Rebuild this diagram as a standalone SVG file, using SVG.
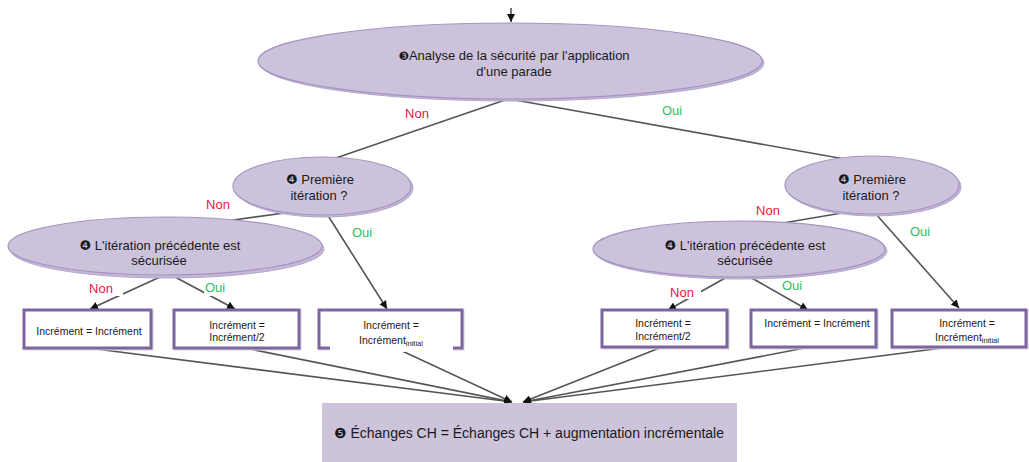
<svg xmlns="http://www.w3.org/2000/svg" width="1029" height="462" viewBox="0 0 1029 462">
<defs>
<style>
text{font-family:"Liberation Sans",Arial,"DejaVu Sans",sans-serif;fill:#1a1a1a}
.t13{font-size:13px}
.tb{font-size:10.5px}
.sub{font-size:7.5px}
.non{font-size:13px;fill:#e8183f}
.oui{font-size:13px;fill:#2fbf62}
.el{fill:#cdc2db;stroke:#a493c3;stroke-width:1.2}
.sh{fill:#c4b8d4;stroke:#b3a6ca;stroke-width:1}
.box{fill:#fff;stroke:#8064a2;stroke-width:3}
.bsh{fill:none;stroke:#d4d4d4;stroke-width:3}
.ln{stroke:#555;stroke-width:1.6;fill:none}
.ar{stroke:#555;stroke-width:1.6;fill:none;marker-end:url(#ah)}
.wb{fill:#fff}
.dg{font-family:"DejaVu Sans",sans-serif;font-size:1em}
</style>
<marker id="ah" viewBox="0 0 10 10" refX="10" refY="5" markerWidth="8" markerHeight="8" markerUnits="userSpaceOnUse" orient="auto">
<path d="M0,0 L10,5 L0,10 z" fill="#111"/>
</marker>
</defs>
<rect width="1029" height="462" fill="#fff"/>

<g id="connectors">
<line class="ar" x1="511" y1="8" x2="511" y2="22"/>
<line class="ln" x1="505" y1="100" x2="330" y2="160"/>
<line class="ln" x1="515" y1="100" x2="850" y2="160"/>
<line class="ln" x1="292" y1="212" x2="233" y2="220"/>
<line class="ar" x1="327" y1="214" x2="387" y2="309"/>
<line class="ar" x1="160" y1="277" x2="90" y2="309"/>
<line class="ar" x1="175" y1="277" x2="235" y2="309"/>
<line class="ln" x1="848" y1="212" x2="783" y2="223"/>
<line class="ar" x1="875" y1="213" x2="959" y2="308"/>
<line class="ar" x1="727" y1="277" x2="668" y2="310"/>
<line class="ar" x1="750" y1="277" x2="808" y2="310"/>
<line class="ar" x1="88" y1="348" x2="512" y2="402"/>
<line class="ar" x1="245" y1="348" x2="512" y2="402"/>
<line class="ar" x1="400" y1="350" x2="512" y2="402"/>
<line class="ar" x1="662" y1="347" x2="523" y2="402"/>
<line class="ar" x1="810" y1="347" x2="523" y2="402"/>
<line class="ar" x1="950" y1="347" x2="523" y2="402"/>
<text class="non" x="417" y="118" text-anchor="middle">Non</text>
<text class="oui" x="672" y="115" text-anchor="middle">Oui</text>
<text class="non" x="218" y="209" text-anchor="middle">Non</text>
<text class="oui" x="362" y="237" text-anchor="middle">Oui</text>
<rect class="wb" x="762" y="212" width="24" height="8"/>
<text class="non" x="768" y="215" text-anchor="middle">Non</text>
<text class="oui" x="920" y="236" text-anchor="middle">Oui</text>
<rect class="wb" x="89" y="281" width="34" height="15"/>
<text class="non" x="101" y="293" text-anchor="middle">Non</text>
<rect class="wb" x="204" y="281" width="22" height="15"/>
<text class="oui" x="215" y="292" text-anchor="middle">Oui</text>
<rect class="wb" x="669" y="284" width="32" height="15"/>
<text class="non" x="682" y="297" text-anchor="middle">Non</text>
<rect class="wb" x="781" y="277" width="22" height="15"/>
<text class="oui" x="792" y="290" text-anchor="middle">Oui</text>
</g>

<g id="analyse">
<ellipse class="sh" cx="512" cy="63" rx="252" ry="38"/>
<ellipse class="el" cx="510" cy="61" rx="252" ry="38"/>
<text class="t13" x="514" y="60" text-anchor="middle"><tspan class="dg" style="font-size:0.9em">❸</tspan>Analyse de la sécurité par l'application</text>
<text class="t13" x="514" y="76" text-anchor="middle">d'une parade</text>
</g>

<g id="premiere-gauche">
<ellipse class="sh" cx="324" cy="188" rx="89" ry="29"/>
<ellipse class="el" cx="322" cy="186" rx="89" ry="29"/>
<text class="t13" x="320" y="184" text-anchor="middle"><tspan class="dg">❹</tspan> Première</text>
<text class="t13" x="319" y="200" text-anchor="middle">itération ?</text>
</g>

<g id="premiere-droite">
<ellipse class="sh" cx="874" cy="187" rx="87" ry="29"/>
<ellipse class="el" cx="872" cy="185" rx="87" ry="29"/>
<text class="t13" x="872" y="184" text-anchor="middle"><tspan class="dg">❹</tspan> Première</text>
<text class="t13" x="871" y="200" text-anchor="middle">itération ?</text>
</g>

<g id="precedente-gauche">
<ellipse class="sh" cx="167" cy="249" rx="157" ry="29"/>
<ellipse class="el" cx="165" cy="246" rx="157" ry="29"/>
<text class="t13" x="160" y="250" text-anchor="middle"><tspan class="dg">❹</tspan> L'itération précédente est</text>
<text class="t13" x="159" y="265" text-anchor="middle">sécurisée</text>
</g>

<g id="precedente-droite">
<ellipse class="sh" cx="741" cy="251" rx="146" ry="28"/>
<ellipse class="el" cx="739" cy="249" rx="146" ry="28"/>
<text class="t13" x="745" y="250" text-anchor="middle"><tspan class="dg">❹</tspan> L'itération précédente est</text>
<text class="t13" x="745" y="265" text-anchor="middle">sécurisée</text>
</g>

<g id="box1">
<rect class="bsh" x="25" y="311" width="127" height="38"/>
<rect class="box" x="24" y="310" width="127" height="38"/>
<text class="tb" x="89" y="335" text-anchor="middle">Incrément = Incrément</text>
</g>
<g id="box2">
<rect class="bsh" x="175" y="311" width="125" height="38"/>
<rect class="box" x="174" y="310" width="125" height="38"/>
<text class="tb" x="237" y="329" text-anchor="middle">Incrément =</text>
<text class="tb" x="237" y="341" text-anchor="middle">Incrément/2</text>
</g>
<g id="box3">
<rect class="bsh" x="320" y="311" width="143" height="38"/>
<rect class="box" x="319" y="310" width="143" height="38"/>
<rect class="wb" x="330" y="343" width="123" height="9"/>
<text class="tb" x="391" y="329" text-anchor="middle">Incrément =</text>
<text class="tb" x="391" y="344" text-anchor="middle">Incrément<tspan class="sub" dy="2">initial</tspan></text>
</g>
<g id="box4">
<rect class="bsh" x="603" y="311" width="125" height="37"/>
<rect class="box" x="602" y="310" width="125" height="37"/>
<text class="tb" x="663" y="327" text-anchor="middle">Incrément =</text>
<text class="tb" x="663" y="340" text-anchor="middle">Incrément/2</text>
</g>
<g id="box5">
<rect class="bsh" x="752" y="311" width="125" height="37"/>
<rect class="box" x="751" y="310" width="125" height="37"/>
<text class="tb" x="817" y="327" text-anchor="middle">Incrément = Incrément</text>
</g>
<g id="box6">
<rect class="bsh" x="893" y="311" width="134" height="37"/>
<rect class="box" x="892" y="310" width="134" height="37"/>
<text class="tb" x="967" y="327" text-anchor="middle">Incrément =</text>
<text class="tb" x="967" y="341" text-anchor="middle">Incrément<tspan class="sub" dy="2">initial</tspan></text>
</g>

<g id="echanges">
<rect x="322" y="403" width="415" height="59" fill="#cdc3da"/>
<text x="529" y="438" text-anchor="middle" style="font-size:14px"><tspan class="dg">❺</tspan> Échanges CH = Échanges CH + augmentation incrémentale</text>
</g>
</svg>
